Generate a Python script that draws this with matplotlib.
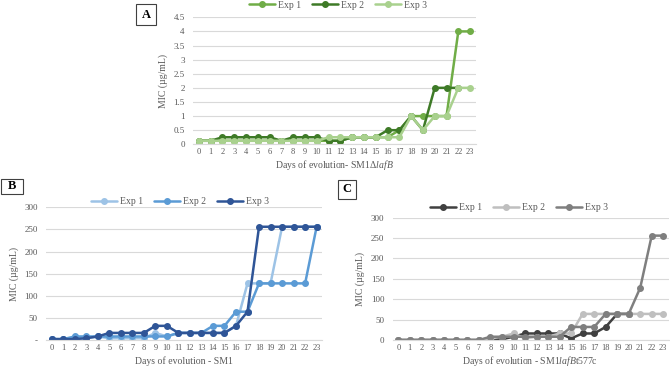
import matplotlib
matplotlib.use("Agg")
import matplotlib.pyplot as plt
import numpy as np

plt.rcParams['font.family'] = ['Liberation Serif', 'DejaVu Serif']
plt.rcParams['mathtext.fontset'] = 'custom'
plt.rcParams['mathtext.rm'] = 'Liberation Serif'
plt.rcParams['mathtext.it'] = 'Liberation Serif:italic'

days = list(range(24))

# Panel A: SM1 delta lafB
a_exp1 = [0.125]*13 + [0.25, 0.25, 0.25, 0.25, 0.5, 1, 1, 1, 1, 4, 4]
a_exp2 = [0.125, 0.125, 0.25, 0.25, 0.25, 0.25, 0.25, 0.125, 0.25, 0.25, 0.25,
          0.125, 0.125, 0.25, 0.25, 0.25, 0.5, 0.5, 1, 0.5, 2, 2, 2, np.nan]
a_exp3 = [0.125]*11 + [0.25]*7 + [1, 0.5, 1, 1, 2, 2]

# Panel B: SM1
b_exp1 = [2, 2, 4, 4, 8, 4, 4, 4, 4, 16, 8, 16, 16, 16, 16, 16, 32, 128, 128, 128, 256, 256, 256, 256]
b_exp2 = [2, 2, 8, 8, 8, 8, 8, 8, 8, 8, 8, 16, 16, 16, 32, 32, 64, 64, 128, 128, 128, 128, 128, 256]
b_exp3 = [2, 2, 2, 4, 8, 16, 16, 16, 16, 32, 32, 16, 16, 16, 16, 16, 32, 64, 256, 256, 256, 256, 256, 256]

# Panel C: SM1 lafB t577c
c_exp1 = [0, 0, 0, 0, 0, 0, 0, 0, 4, 2, 8, 16, 16, 16, 16, 4, 16, 16, 32, 64, 64, np.nan, np.nan, np.nan]
c_exp2 = [0, 0, 0, 0, 0, 0, 0, 0, 4, 8, 16, 4, 8, 8, 16, 16, 64, 64, 64, 64, 64, 64, 64, 64]
c_exp3 = [0, 0, 0, 0, 0, 0, 0, 0, 8, 8, 8, 8, 8, 8, 8, 32, 32, 32, 64, 64, 64, 128, 256, 256]

legend_labels = ['Exp 1', 'Exp 2', 'Exp 3']

W, H = 670, 368
fig = plt.figure(figsize=(6.7, 3.68), dpi=100)


def ax_rect(x0, x1, ytop, ybot):
    return [x0 / W, 1 - ybot / H, (x1 - x0) / W, (ybot - ytop) / H]


tick_color = '#595959'
grid_color = '#d9d9d9'


def style(ax, ymax, ystep, ylabels):
    ax.set_xlim(-0.5, 23.5)
    ax.set_ylim(0, ymax)
    ax.set_yticks(np.arange(0, ymax + ystep / 2, ystep))
    ax.set_yticklabels(ylabels)
    ax.set_xticks(days)
    ax.set_xticklabels([str(d) for d in days])
    for s in ['top', 'right', 'left']:
        ax.spines[s].set_visible(False)
    ax.spines['bottom'].set_color(grid_color)
    ax.grid(axis='y', color=grid_color, linewidth=0.8)
    ax.set_axisbelow(True)
    ax.tick_params(axis='x', length=0, labelsize=6, colors=tick_color, pad=3)
    ax.tick_params(axis='y', length=0, labelsize=6.5, colors=tick_color, pad=6)
    ax.set_ylabel('MIC (µg/mL)', fontsize=7, color=tick_color, labelpad=4)


def plot_series(ax, series, colors, legend_xy):
    handles = []
    for vals, col, lab in zip(series, colors, legend_labels):
        h, = ax.plot(days, vals, color=col, lw=1.8, marker='o', ms=4, label=lab,
                     solid_capstyle='round')
        handles.append(h)
    fig.legend(handles=handles, loc='center', bbox_to_anchor=legend_xy, ncol=3,
               frameon=False, fontsize=7, handlelength=2.6, handletextpad=0.3,
               columnspacing=1.2, labelcolor=tick_color)


def xlabel(x, y, text):
    fig.text(x / W, 1 - y / H, text, ha='center', va='baseline', fontsize=7,
             color=tick_color)


# Panel A
axA = fig.add_axes(ax_rect(193, 476, 17.3, 144.3))
style(axA, 4.5, 0.5, ['0', '0.5', '1', '1.5', '2', '2.5', '3', '3.5', '4', '4.5'])
plot_series(axA, [a_exp1, a_exp2, a_exp3], ['#70AD47', '#3E7A27', '#A9D18E'],
            (338 / W, 1 - 5 / H))
xlabel(334, 168.5, r'Days of evolution- SM1$\Delta$$\mathit{lafB}$')

# Panel B
axB = fig.add_axes(ax_rect(45.9, 322.4, 207.3, 340))
style(axB, 300, 50, ['-', '50', '100', '150', '200', '250', '300'])
plot_series(axB, [b_exp1, b_exp2, b_exp3], ['#9DC3E6', '#5B9BD5', '#2F5597'],
            (180 / W, 1 - 202 / H))
xlabel(184, 363.5, 'Days of evolution - SM1')

# Panel C
axC = fig.add_axes(ax_rect(392.6, 669, 217.7, 340))
style(axC, 300, 50, ['0', '50', '100', '150', '200', '250', '300'])
plot_series(axC, [c_exp1, c_exp2, c_exp3], ['#404040', '#BFBFBF', '#7F7F7F'],
            (519 / W, 1 - 208 / H))
xlabel(530, 363.5, r'Days of evolution - SM1$\mathit{lafB}$t577c')

# Panel letter boxes
for letter, (x0, x1, y0, y1) in zip('ABC', [(136, 156, 4, 25), (1, 23, 179, 194),
                                           (338, 356, 180, 199)]):
    fig.patches.append(plt.Rectangle((x0 / W, 1 - y1 / H), (x1 - x0) / W, (y1 - y0) / H,
                                     transform=fig.transFigure, fill=False,
                                     edgecolor='#404040', linewidth=0.8))
    fig.text((x0 + x1) / 2 / W, 1 - (y0 + y1) / 2 / H, letter, ha='center', va='center',
             fontsize=9, fontweight='bold', color='black')

fig.savefig('out.png', dpi=100)
